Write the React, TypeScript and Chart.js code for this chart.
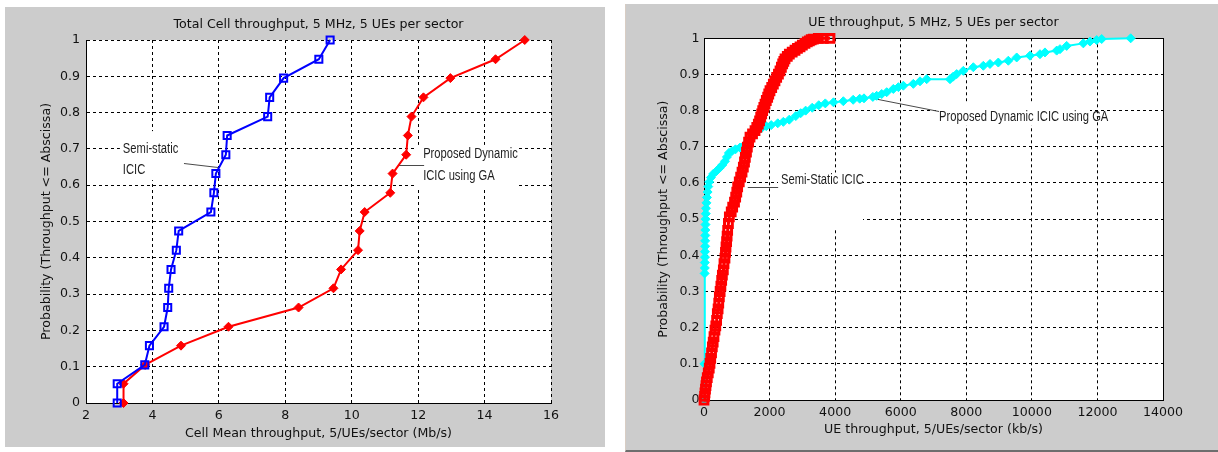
import React, { useEffect, useRef } from 'react';
import { Chart, registerables } from 'chart.js';

Chart.register(...registerables);

// ---------------- data ----------------
// Left figure: total cell throughput CDF (Mb/s)
const cellProbLevels = [0, 0.053, 0.105, 0.158, 0.21, 0.263, 0.316, 0.368, 0.421, 0.474, 0.526, 0.579, 0.632, 0.684, 0.737, 0.789, 0.842, 0.895, 0.947, 1];
const cellSemiStatic = [2.94, 2.94, 3.77, 3.91, 4.35, 4.46, 4.49, 4.56, 4.72, 4.79, 5.76, 5.85, 5.91, 6.21, 6.25, 7.47, 7.53, 7.95, 9.01, 9.35];
const cellDynamicGA = [3.13, 3.13, 3.78, 4.86, 6.29, 8.4, 9.45, 9.68, 10.19, 10.24, 10.39, 11.16, 11.23, 11.64, 11.69, 11.8, 12.16, 12.97, 14.33, 15.21];

// Right figure: UE throughput CDF (kb/s)
const ueSemiStaticX = [0, 20, 30, 45, 60, 75, 100, 130, 160, 183, 205, 230, 254, 280, 305, 335, 360, 385, 406, 430, 450, 468, 492, 515, 539, 560, 590, 610, 640, 655, 671, 690, 705, 722, 745, 773, 830, 875, 930, 966, 1000, 1027, 1075, 1118, 1160, 1200, 1235, 1261, 1295, 1322, 1360, 1403, 1480, 1556, 1610, 1657, 1695, 1729, 1760, 1790, 1825, 1861, 1900, 1942, 1975, 2013, 2065, 2115, 2165, 2217, 2270, 2318, 2360, 2400, 2435, 2471, 2540, 2603, 2690, 2776, 2850, 2929, 3000, 3081, 3150, 3213, 3270, 3335, 3487, 3640, 3843];
const ueSemiStaticY = [0, 0.01, 0.02, 0.03, 0.04, 0.05, 0.062, 0.075, 0.088, 0.101, 0.115, 0.13, 0.147, 0.16, 0.175, 0.193, 0.205, 0.22, 0.239, 0.252, 0.268, 0.285, 0.3, 0.315, 0.331, 0.345, 0.36, 0.377, 0.392, 0.408, 0.423, 0.438, 0.453, 0.469, 0.488, 0.506, 0.52, 0.533, 0.547, 0.561, 0.575, 0.589, 0.603, 0.616, 0.63, 0.644, 0.658, 0.671, 0.685, 0.699, 0.713, 0.727, 0.736, 0.745, 0.754, 0.763, 0.772, 0.782, 0.791, 0.8, 0.809, 0.818, 0.828, 0.837, 0.846, 0.855, 0.864, 0.873, 0.882, 0.892, 0.901, 0.91, 0.92, 0.929, 0.936, 0.943, 0.95, 0.956, 0.962, 0.967, 0.972, 0.976, 0.981, 0.986, 0.99, 0.993, 0.996, 0.998, 1, 1, 1];
const ueDynamicX = [0, 15, 20, 25, 25, 30, 30, 35, 35, 40, 40, 45, 50, 55, 60, 75, 90, 110, 130, 160, 210, 280, 380, 470, 560, 640, 700, 760, 850, 960, 1100, 1230, 1330, 1430, 1530, 1640, 1760, 1900, 2050, 2250, 2420, 2600, 2800, 2950, 3100, 3300, 3500, 3700, 3950, 4250, 4550, 4750, 4880, 5150, 5267, 5420, 5572, 5775, 5930, 6080, 6385, 6588, 6792, 7503, 7600, 7707, 7910, 8215, 8520, 8723, 8977, 9282, 9537, 9943, 10248, 10400, 10757, 10858, 11062, 11570, 11773, 11977, 12130, 13014];
const ueDynamicY = [0, 0.1, 0.35, 0.365, 0.38, 0.395, 0.41, 0.425, 0.44, 0.455, 0.47, 0.485, 0.5, 0.515, 0.53, 0.545, 0.56, 0.575, 0.59, 0.603, 0.615, 0.625, 0.633, 0.641, 0.65, 0.66, 0.672, 0.683, 0.688, 0.693, 0.698, 0.704, 0.712, 0.722, 0.735, 0.745, 0.752, 0.757, 0.76, 0.765, 0.769, 0.775, 0.785, 0.793, 0.8, 0.808, 0.815, 0.82, 0.823, 0.826, 0.83, 0.833, 0.834, 0.838, 0.841, 0.846, 0.851, 0.86, 0.865, 0.869, 0.874, 0.881, 0.887, 0.887, 0.894, 0.901, 0.91, 0.92, 0.924, 0.929, 0.933, 0.938, 0.947, 0.952, 0.956, 0.961, 0.966, 0.97, 0.979, 0.986, 0.991, 0.995, 0.998, 1];

// Tick labels
const cellTickLabels = ['2', '4', '6', '8', '10', '12', '14', '16'];
const ueTickLabels = ['0', '2000', '4000', '6000', '8000', '10000', '12000', '14000'];
const probTickLabels = ['0', '0.1', '0.2', '0.3', '0.4', '0.5', '0.6', '0.7', '0.8', '0.9', '1'];

// Text
const leftTitle = 'Total Cell throughput, 5 MHz, 5 UEs per sector';
const rightTitle = 'UE throughput, 5 MHz, 5 UEs per sector';
const leftXTitle = 'Cell Mean throughput, 5/UEs/sector (Mb/s)';
const rightXTitle = 'UE throughput, 5/UEs/sector (kb/s)';
const yTitle = 'Probability (Throughput <= Abscissa)';

// ---------------- annotations (data coordinates) ----------------
type Note = { lines: string[]; x: number; ys: number[]; box: number[]; callout: number[][] };
const leftNotes: Note[] = [
  { lines: ['Semi-static', 'ICIC'], x: 3.11, ys: [0.7, 0.642], box: [3.02, 5.97, 0.749, 0.614], callout: [[4.95, 0.66], [5.98, 0.651]] },
  { lines: ['Proposed Dynamic', 'ICIC using GA'], x: 12.15, ys: [0.686, 0.625], box: [11.94, 15.0, 0.711, 0.592], callout: [[11.4, 0.656], [12.18, 0.656]] },
];
const rightNotes: Note[] = [
  { lines: ['Proposed Dynamic ICIC using GA'], x: 7168, ys: [0.783], box: [7076, 11773, 0.825, 0.759], callout: [[5164, 0.834], [7168, 0.8]] },
  { lines: ['Semi-Static ICIC'], x: 2349, ys: [0.607], box: [2257, 4850, 0.629, 0.474], callout: [[1335, 0.59], [2262, 0.59]] },
];

const FONT = '"DejaVu Sans", "Liberation Sans", sans-serif';
const FONT_SIZE = 12.6;
const NOTE_FONT = '14px "Liberation Sans", Arial, sans-serif';
const NOTE_SQUEEZE = 0.8;

const toPts = (xs: number[], ys: number[]) => xs.map((x, i) => ({ x, y: ys[i] }));
const labelFor = (labels: string[]) => (v: any) => {
  const hit = labels.find((l) => Math.abs(Number(l) - Number(v)) < 1e-6);
  return hit === undefined ? '' : hit;
};

type PanelCfg = {
  left: number; top: number; width: number; height: number;
  title: string; titleY: number; xTitle: string;
  xMin: number; xMax: number; xStep: number; xLabels: string[];
  padTop: number; padRight: number; yAxisWidth: number; xAxisHeight: number;
  xTitlePadBottom: number; yTitlePadTop: number; xTickPad: number; yTickPad: number;
  frame: boolean; notes: Note[]; datasets: any[]; extraStyle?: any;
};

function makeDecor(p: PanelCfg) {
  return {
    id: 'decor',
    beforeDraw(chart: any) {
      const { ctx, chartArea: a } = chart;
      ctx.save();
      ctx.fillStyle = '#ffffff';
      ctx.fillRect(a.left, a.top, a.right - a.left, a.bottom - a.top);
      ctx.restore();
    },
    beforeDatasetsDraw(chart: any) {
      const { ctx, chartArea: a, scales } = chart;
      const sx = scales.x, sy = scales.y;
      ctx.save();
      for (const n of p.notes) {
        const x1 = sx.getPixelForValue(n.box[0]);
        const x2 = sx.getPixelForValue(n.box[1]);
        const y1 = sy.getPixelForValue(n.box[2]);
        const y2 = sy.getPixelForValue(n.box[3]);
        ctx.fillStyle = '#ffffff';
        ctx.fillRect(x1, y1, x2 - x1, y2 - y1);
      }
      for (const n of p.notes) {
        ctx.strokeStyle = '#4a4a4a';
        ctx.lineWidth = 1;
        ctx.beginPath();
        n.callout.forEach((pt, i) => {
          const px = sx.getPixelForValue(pt[0]);
          const py = Math.round(sy.getPixelForValue(pt[1])) + 0.5;
          if (i === 0) ctx.moveTo(px, py); else ctx.lineTo(px, py);
        });
        ctx.stroke();
        ctx.fillStyle = '#1e1e1e';
        ctx.font = NOTE_FONT;
        ctx.textAlign = 'left';
        ctx.textBaseline = 'middle';
        n.lines.forEach((t, i) => {
          ctx.save();
          ctx.translate(sx.getPixelForValue(n.x), sy.getPixelForValue(n.ys[i]));
          ctx.scale(NOTE_SQUEEZE, 1);
          ctx.fillText(t, 0, 0);
          ctx.restore();
        });
      }
      if (p.frame) {
        ctx.strokeStyle = '#000000';
        ctx.lineWidth = 1;
        ctx.strokeRect(Math.round(a.left) + 0.5, Math.round(a.top) + 0.5, Math.round(a.right - a.left), Math.round(a.bottom - a.top));
      }
      ctx.restore();
    },
    afterDraw(chart: any) {
      const { ctx, chartArea: a } = chart;
      ctx.save();
      ctx.fillStyle = '#111111';
      ctx.font = `${FONT_SIZE}px ${FONT}`;
      ctx.textAlign = 'center';
      ctx.textBaseline = 'middle';
      ctx.fillText(p.title, (a.left + a.right) / 2, p.titleY);
      ctx.restore();
    },
  };
}

function Panel({ p }: { p: PanelCfg }) {
  const ref = useRef<HTMLCanvasElement>(null);
  useEffect(() => {
    const font = { family: FONT, size: FONT_SIZE };
    const chart = new Chart(ref.current as HTMLCanvasElement, {
      type: 'scatter',
      data: { datasets: p.datasets },
      options: {
        animation: false,
        responsive: false,
        events: [],
        layout: { padding: { left: 0, right: p.padRight, top: p.padTop, bottom: 0 } },
        plugins: { legend: { display: false }, tooltip: { enabled: false }, title: { display: false } },
        scales: {
          x: {
            type: 'linear',
            min: p.xMin,
            max: p.xMax,
            afterFit: (s: any) => { s.height = p.xAxisHeight; },
            ticks: { stepSize: p.xStep, padding: p.xTickPad, font, color: '#111', maxRotation: 0, autoSkip: false, callback: labelFor(p.xLabels) },
            grid: { color: '#000', lineWidth: 1, drawTicks: false },
            border: { display: true, color: '#000', width: 1, dash: [3, 3] },
            title: { display: true, text: p.xTitle, font, color: '#111', padding: { top: 0, bottom: p.xTitlePadBottom } },
          },
          y: {
            type: 'linear',
            min: 0,
            max: 1,
            afterFit: (s: any) => { s.width = p.yAxisWidth; },
            ticks: { stepSize: 0.1, padding: p.yTickPad, font, color: '#111', autoSkip: false, callback: labelFor(probTickLabels) },
            grid: { color: '#000', lineWidth: 1, drawTicks: false },
            border: { display: true, color: '#000', width: 1, dash: [3, 3] },
            title: { display: true, text: yTitle, font, color: '#111', padding: { top: p.yTitlePadTop, bottom: 0 } },
          },
        },
      } as any,
      plugins: [makeDecor(p)],
    });
    return () => chart.destroy();
  }, []);
  return (
    <div style={{ position: 'absolute', left: p.left, top: p.top, width: p.width, height: p.height, background: '#cccccc', ...(p.extraStyle || {}) }}>
      <canvas ref={ref} width={p.width} height={p.height} style={{ display: 'block', width: p.width, height: p.height }} />
    </div>
  );
}

const leftPanel: PanelCfg = {
  left: 5, top: 7, width: 600, height: 440,
  title: leftTitle, titleY: 17.3, xTitle: leftXTitle,
  xMin: 2, xMax: 16, xStep: 2, xLabels: cellTickLabels,
  padTop: 33, padRight: 54, yAxisWidth: 81, xAxisHeight: 44,
  xTitlePadBottom: 5.8, yTitlePadTop: 33.8, xTickPad: 5, yTickPad: 6,
  frame: false, notes: leftNotes,
  datasets: [
    {
      label: 'Semi-static ICIC', data: toPts(cellSemiStatic, cellProbLevels), showLine: true,
      borderColor: '#0000ff', borderWidth: 2, pointStyle: 'rect', pointRadius: 5,
      pointBorderColor: '#0000ff', pointBackgroundColor: 'rgba(0,0,0,0)', pointBorderWidth: 2, clip: false,
    },
    {
      label: 'Proposed Dynamic ICIC using GA', data: toPts(cellDynamicGA, cellProbLevels), showLine: true,
      borderColor: '#ff0000', borderWidth: 2, pointStyle: 'rectRot', pointRadius: 4.5,
      pointBorderColor: '#ff0000', pointBackgroundColor: '#ff0000', pointBorderWidth: 1, clip: false,
    },
  ],
};

const rightPanel: PanelCfg = {
  left: 626, top: 4, width: 592, height: 446,
  title: rightTitle, titleY: 18.7, xTitle: rightXTitle,
  xMin: 0, xMax: 14000, xStep: 2000, xLabels: ueTickLabels,
  padTop: 34.3, padRight: 55, yAxisWidth: 78, xAxisHeight: 50,
  xTitlePadBottom: 12.8, yTitlePadTop: 30.6, xTickPad: 5, yTickPad: 4.5,
  frame: true, notes: rightNotes,
  extraStyle: { borderLeft: '1px solid #d8cdc4', borderBottom: '2px solid #6e6e6e', boxSizing: 'content-box', marginLeft: -1 },
  datasets: [
    {
      label: 'Semi-Static ICIC', data: toPts(ueSemiStaticX, ueSemiStaticY), showLine: true,
      borderColor: '#ff0000', borderWidth: 3, pointStyle: 'rect', pointRadius: 5.5,
      pointBorderColor: '#ff0000', pointBackgroundColor: 'rgba(0,0,0,0)', pointBorderWidth: 3, clip: false,
    },
    {
      label: 'Proposed Dynamic ICIC using GA', data: toPts(ueDynamicX, ueDynamicY), showLine: true,
      borderColor: '#00ffff', borderWidth: 2, pointStyle: 'rectRot', pointRadius: 4.5,
      pointBorderColor: '#00ffff', pointBackgroundColor: '#00ffff', pointBorderWidth: 1, clip: false,
    },
  ],
};

export default function App() {
  return (
    <div style={{ position: 'fixed', left: 0, top: 0, width: 1218, height: 452, background: '#ffffff', overflow: 'hidden' }}>
      <Panel p={leftPanel} />
      <Panel p={rightPanel} />
    </div>
  );
}
